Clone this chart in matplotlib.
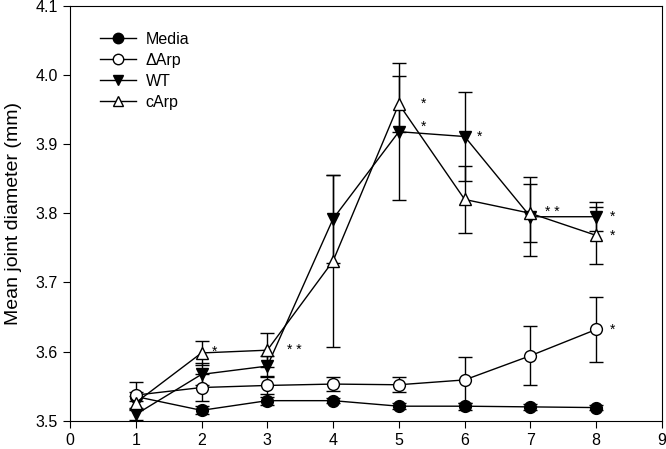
import numpy as np
import matplotlib
matplotlib.use('Agg')
import matplotlib.pyplot as plt
from matplotlib.lines import Line2D

plt.rcParams['font.family'] = ['Liberation Sans', 'DejaVu Sans']

days = [1, 2, 3, 4, 5, 6, 7, 8]

media = [3.535, 3.515, 3.529, 3.529, 3.521, 3.521, 3.520, 3.519]
media_err = [0.006, 0.006, 0.006, 0.004, 0.004, 0.005, 0.004, 0.004]

darp = [3.537, 3.548, 3.551, 3.553, 3.552, 3.559, 3.594, 3.632]
darp_err = [0.019, 0.019, 0.012, 0.010, 0.011, 0.033, 0.043, 0.047]

wt = [3.509, 3.567, 3.579, 3.792, 3.918, 3.911, 3.795, 3.795]
wt_err = [0.008, 0.016, 0.015, 0.064, 0.099, 0.065, 0.057, 0.021]

carp = [3.526, 3.598, 3.602, 3.731, 3.958, 3.820, 3.800, 3.768]
carp_err = [0.010, 0.018, 0.025, 0.125, 0.040, 0.048, 0.042, 0.041]

# significance stars: (x, y, text)
stars = [(2.15, 3.599, '*'), (3.3, 3.602, '* *'),
         (5.33, 3.958, '*'), (5.33, 3.925, '*'),
         (6.18, 3.911, '*'), (7.22, 3.802, '* *'),
         (8.2, 3.795, '*'), (8.2, 3.767, '*'), (8.2, 3.632, '*')]

fig = plt.figure(figsize=(6.66, 4.49), dpi=100)
ax = fig.add_axes([0.105, 0.063, 0.889, 0.924])

series = [
    ('Media', media, media_err, 'o', 'black'),
    ('\u0394Arp', darp, darp_err, 'o', 'white'),
    ('WT', wt, wt_err, 'v', 'black'),
    ('cArp', carp, carp_err, '^', 'white'),
]

handles = []
for label, vals, errs, marker, face in series:
    ax.errorbar(days, vals, yerr=errs, color='black', lw=1.0,
                marker=marker, markersize=8.5, markerfacecolor=face,
                markeredgecolor='black', markeredgewidth=1.0,
                ecolor='black', elinewidth=1.0, capsize=4.7, capthick=1.0)
    handles.append(Line2D([], [], color='black', lw=1.0, marker=marker,
                          markersize=7.5, markerfacecolor=face,
                          markeredgecolor='black', label=label))

for x, y, s in stars:
    ax.text(x, y, s, fontsize=10, ha='left', va='center')

ax.set_xlim(0, 9)
ax.set_ylim(3.5, 4.1)
ax.set_xticks(range(0, 10))
ax.set_yticks([3.5, 3.6, 3.7, 3.8, 3.9, 4.0, 4.1])
ax.set_yticklabels(['3.5', '3.6', '3.7', '3.8', '3.9', '4.0', '4.1'])
ax.tick_params(labelsize=11.5, direction='out', length=5, top=False, right=False)
ax.set_ylabel('Mean joint diameter (mm)', fontsize=14, labelpad=10)

ax.legend(handles=handles, loc='upper left', frameon=False, fontsize=11.5,
          bbox_to_anchor=(0.05, 0.938), handlelength=2.3, handletextpad=0.6,
          labelspacing=0.38, borderaxespad=0.0, borderpad=0.0)

fig.savefig('out.png', dpi=100)
